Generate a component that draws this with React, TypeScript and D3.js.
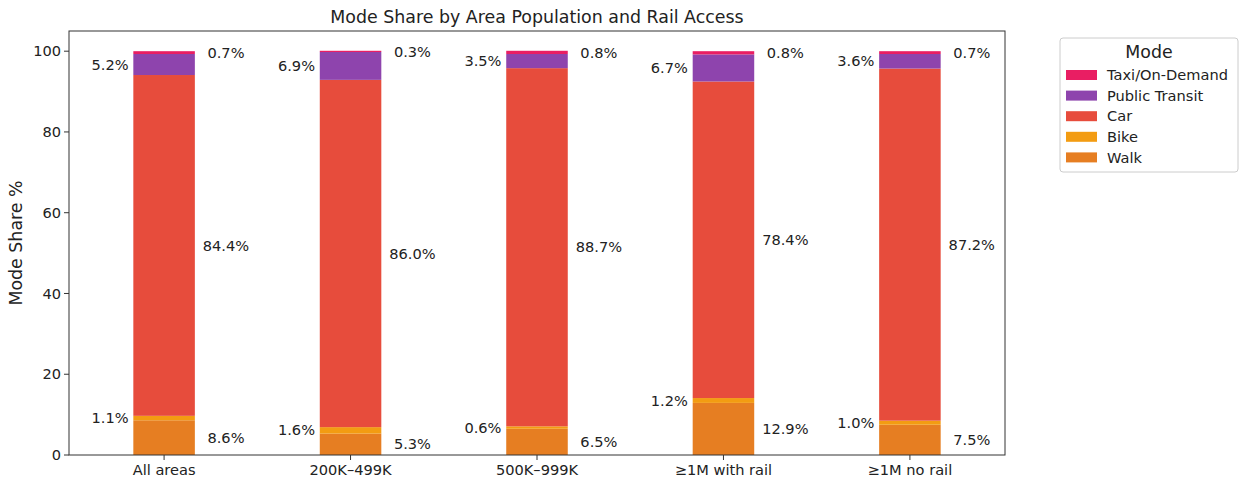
import * as d3 from "d3";

const categories = ["All areas", "200K–499K", "500K–999K", "≥1M with rail", "≥1M no rail"];
const modes = ["Walk", "Bike", "Car", "Public Transit", "Taxi/On-Demand"];
const walk = [8.6, 5.3, 6.5, 12.9, 7.5];
const bike = [1.1, 1.6, 0.6, 1.2, 1.0];
const car = [84.4, 86.0, 88.7, 78.4, 87.2];
const transit = [5.2, 6.9, 3.5, 6.7, 3.6];
const taxi = [0.7, 0.3, 0.8, 0.8, 0.7];
const yTicks = [0, 20, 40, 60, 80, 100];

const COLORS: Record<string, string> = {
  Walk: "#e67e22",
  Bike: "#f39c12",
  Car: "#e74c3c",
  "Public Transit": "#8e44ad",
  "Taxi/On-Demand": "#e91e63",
};
// which side of the bar each mode's label sits on
const LABEL_SIDE: Record<string, "left" | "right"> = {
  Walk: "right",
  Bike: "left",
  Car: "right",
  "Public Transit": "left",
  "Taxi/On-Demand": "right",
};

const W = 1240;
const H = 479;
const M = { left: 69, right: 1005, top: 31, bottom: 455 };
const FONT = "'DejaVu Sans', sans-serif";
const TEXT = "#222";
const FS = 14.6;
const FS_BIG = 17.4;

export default function App() {
  const series = [walk, bike, car, transit, taxi];

  const x = d3.scaleLinear().domain([-0.51, 4.51]).range([M.left, M.right]);
  const y = d3.scaleLinear().domain([0, 105]).range([M.bottom, M.top]);
  const barW = x(0.33) - x(0);

  const stacked = categories.map((c, i) => {
    let base = 0;
    return modes.map((m, k) => {
      const v = series[k][i];
      const seg = { mode: m, v, y0: base, y1: base + v };
      base += v;
      return seg;
    });
  });

  const legendRows = [...modes].reverse();

  return (
    <svg width={W} height={H} style={{ position: "absolute", left: 0, top: 0 }} fontFamily={FONT}>
      <rect width={W} height={H} fill="#fff" />
      <text x={(M.left + M.right) / 2} y={23} textAnchor="middle" fontSize={FS_BIG} fill={TEXT}>
        Mode Share by Area Population and Rail Access
      </text>

      {stacked.map((segs, i) => (
        <g key={categories[i]}>
          {segs.map((s) => (
            <rect
              key={s.mode}
              x={x(i) - barW / 2}
              y={y(s.y1)}
              width={barW}
              height={y(s.y0) - y(s.y1)}
              fill={COLORS[s.mode]}
            />
          ))}
          {segs.map((s) => {
            const side = LABEL_SIDE[s.mode];
            const lx = side === "left" ? x(i - 0.29) : x(i + 0.332);
            return (
              <text
                key={"l" + s.mode}
                x={lx}
                y={y((s.y0 + s.y1) / 2)}
                dy="0.35em"
                textAnchor="middle"
                fontSize={FS}
                fill={TEXT}
              >
                {s.v.toFixed(1)}%
              </text>
            );
          })}
        </g>
      ))}

      <rect
        x={M.left}
        y={M.top}
        width={M.right - M.left}
        height={M.bottom - M.top}
        fill="none"
        stroke="#333"
        strokeWidth={1}
      />

      {yTicks.map((t) => (
        <g key={t} transform={`translate(${M.left},${y(t)})`}>
          <line x1={-5} x2={0} stroke="#333" />
          <text x={-8} dy="0.35em" textAnchor="end" fontSize={FS} fill={TEXT}>
            {t}
          </text>
        </g>
      ))}
      {categories.map((c, i) => (
        <g key={c} transform={`translate(${x(i)},${M.bottom})`}>
          <line y1={0} y2={5} stroke="#333" />
          <text y={20} textAnchor="middle" fontSize={FS} fill={TEXT}>
            {c}
          </text>
        </g>
      ))}
      <text
        transform={`translate(22,${(M.top + M.bottom) / 2}) rotate(-90)`}
        textAnchor="middle"
        fontSize={FS_BIG}
        fill={TEXT}
      >
        Mode Share %
      </text>

      <g transform="translate(1060,38)">
        <rect width={178} height={134} rx={3} fill="#fff" stroke="#ccc" />
        <text x={89} y={20} textAnchor="middle" fontSize={FS_BIG} fill={TEXT}>
          Mode
        </text>
        {legendRows.map((m, k) => (
          <g key={m} transform={`translate(0,${37 + k * 20.6})`}>
            <rect x={6} y={-5} width={31} height={10} fill={COLORS[m]} />
            <text x={47} dy="0.35em" fontSize={FS} fill={TEXT}>
              {m}
            </text>
          </g>
        ))}
      </g>
    </svg>
  );
}
